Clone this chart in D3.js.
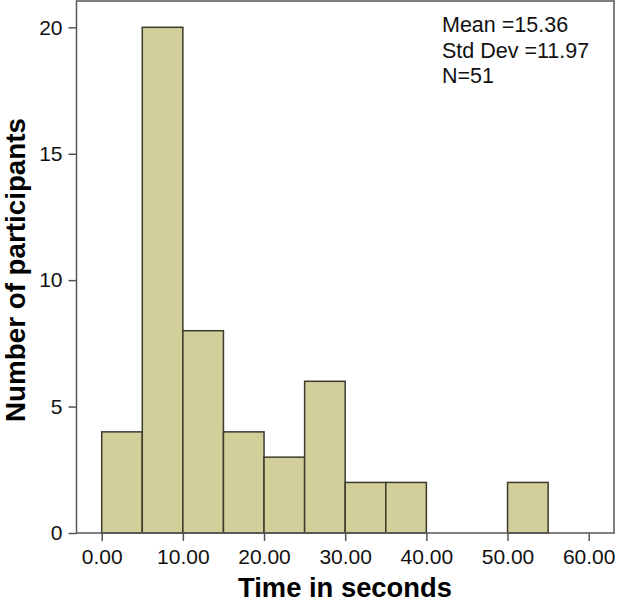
<!DOCTYPE html>
<html><head><meta charset="utf-8">
<script src="https://cdn.jsdelivr.net/npm/d3@7"></script>
<style>body{margin:0;background:#fff}svg{display:block}</style>
</head><body>
<script>
const binStarts = [0,5,10,15,20,25,30,35,40,45,50,55];
const counts    = [4,20,8,4,3,6,2,2,0,0,2,0];
const binWidth = 5;
const xTicks = [0,10,20,30,40,50,60];
const yTicks = [0,5,10,15,20];
const statsLines = ["Mean =15.36","Std Dev =11.97","N=51"];

const W=618,H=603;
const svg=d3.select("body").append("svg").attr("width",W).attr("height",H);
const font="Arial, 'Liberation Sans', sans-serif";
const x=d3.scaleLinear().domain([0,60]).range([101.7,588.7]);
const y=d3.scaleLinear().domain([0,20]).range([533,27.3]);
const frame={l:76.5,t:1,r:614,b:533};

function fit(sel, target){
  const n=sel.node(); const f=+sel.attr("font-size");
  const w=n.getComputedTextLength();
  sel.attr("font-size", f*target/w);
}

// bars
svg.append("g").selectAll("rect").data(binStarts.map((s,i)=>({s,c:counts[i]})).filter(d=>d.c>0))
 .join("rect")
 .attr("x",d=>x(d.s)).attr("width",d=>x(d.s+binWidth)-x(d.s))
 .attr("y",d=>y(d.c)).attr("height",d=>y(0)-y(d.c))
 .attr("fill","#d3cf9b").attr("stroke","#3b3a2c").attr("stroke-width",1.5);

// frame
svg.append("rect").attr("x",frame.l).attr("y",frame.t).attr("width",frame.r-frame.l).attr("height",frame.b-frame.t)
 .attr("fill","none").attr("stroke","#555").attr("stroke-width",1.5);

const tickFs=21;
const ya=svg.append("g").attr("transform",`translate(${frame.l},0)`)
 .call(d3.axisLeft(y).tickValues(yTicks).tickSize(8).tickPadding(6).tickFormat(d3.format("d")));
ya.select(".domain").remove();
ya.selectAll("line").attr("stroke","#555").attr("stroke-width",1.5);
ya.selectAll("text").attr("font-family",font).attr("font-size",tickFs).attr("fill","#111");

const xa=svg.append("g").attr("transform",`translate(0,${frame.b})`)
 .call(d3.axisBottom(x).tickValues(xTicks).tickSize(8).tickPadding(9).tickFormat(d3.format(".2f")));
xa.select(".domain").remove();
xa.selectAll("line").attr("stroke","#555").attr("stroke-width",1.5);
xa.selectAll("text").attr("font-family",font).attr("font-size",tickFs).attr("fill","#111").attr("dy","0.68em");

// titles
const xt=svg.append("text").attr("x",345).attr("y",597).attr("text-anchor","middle")
 .attr("font-family",font).attr("font-weight","bold").attr("font-size",26).text("Time in seconds");
fit(xt,214);
const yt=svg.append("text").attr("transform","translate(25,270) rotate(-90)").attr("text-anchor","middle")
 .attr("font-family",font).attr("font-weight","bold").attr("font-size",26).text("Number of participants");
fit(yt,304);

// stats
svg.append("g").selectAll("text").data(statsLines).join("text")
 .attr("x",442).attr("y",(d,i)=>31.7+i*25.8)
 .attr("font-family",font).attr("font-size",21.5).attr("fill","#111").text(d=>d);
</script>
</body></html>
